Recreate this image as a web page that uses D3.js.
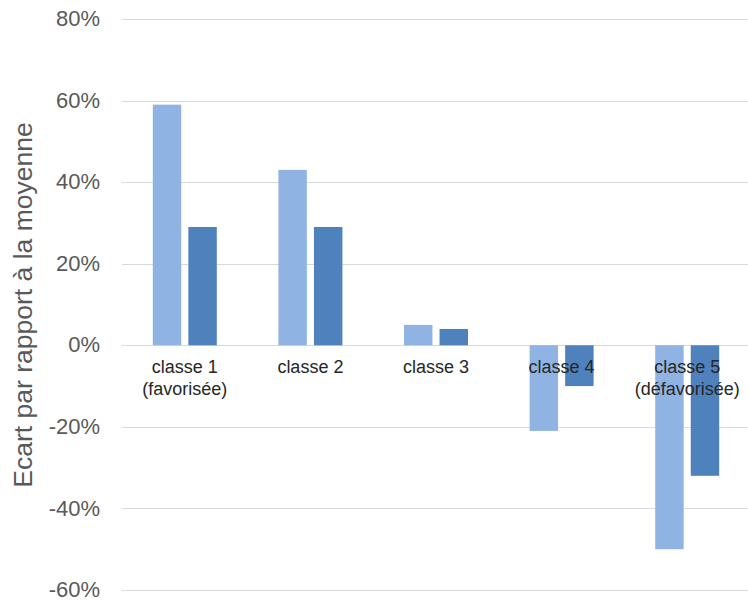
<!DOCTYPE html>
<html>
<head>
<meta charset="utf-8">
<script src="https://cdn.jsdelivr.net/npm/d3@7"></script>
<style>
  html, body { margin: 0; padding: 0; background: #fff; }
  svg { display: block; font-family: "Liberation Sans", Arial, sans-serif; }
</style>
</head>
<body>
<svg id="chart" width="748" height="600"></svg>
<script>
// Categories (each label may wrap onto two lines)
const categories = ["classe 1", "classe 2", "classe 3", "classe 4", "classe 5"];
const categoryLines = [
  ["classe 1", "(favorisée)"],
  ["classe 2"],
  ["classe 3"],
  ["classe 4"],
  ["classe 5", "(défavorisée)"]
];
// Two series of deviations from the mean
const seriesNames = ["serieA", "serieB"];
const serieA = [0.59, 0.43, 0.05, -0.21, -0.50];
const serieB = [0.29, 0.29, 0.04, -0.10, -0.32];
const seriesColors = ["#8FB4E3", "#4F81BD"];
// Y-axis ticks
const yTicks = [-0.6, -0.4, -0.2, 0, 0.2, 0.4, 0.6, 0.8];
const yTitle = "Ecart par rapport à la moyenne";

const svg = d3.select("#chart");

const x = d3.scaleBand().domain(categories).range([122, 750]).padding(0);
const y = d3.scaleLinear().domain([-0.6, 0.8]).range([590, 19]);

// Percent labels with a plain hyphen for negatives
const pct = d => Math.round(d * 100) + "%";

const yAxis = d3.axisLeft(y)
  .tickValues(yTicks)
  .tickSize(0)
  .tickPadding(22)
  .tickFormat(pct);

const gAxis = svg.append("g").attr("transform", "translate(122,0)").call(yAxis);
gAxis.select(".domain").remove();
gAxis.selectAll("text")
  .attr("fill", "#595959")
  .attr("dy", "0.3em")
  .style("font-size", "22px")
  .style("font-family", "'Liberation Sans', Arial, sans-serif");

// Gridlines
svg.append("g").selectAll("line")
  .data(yTicks)
  .join("line")
  .attr("x1", 122).attr("x2", 748)
  .attr("y1", d => Math.round(y(d)) + 0.5)
  .attr("y2", d => Math.round(y(d)) + 0.5)
  .attr("stroke", "#d9d9d9")
  .attr("stroke-width", 1);

// Bars
const data = categories.map((c, i) => ({ cat: c, values: [serieA[i], serieB[i]] }));
const barGroup = svg.append("g");
data.forEach(d => {
  const center = x(d.cat) + x.bandwidth() / 2;
  const inner = d3.scaleBand().domain(seriesNames).range([center - 32, center + 32]).paddingInner(0.2);
  seriesNames.forEach((s, j) => {
    const v = d.values[j];
    barGroup.append("rect")
      .attr("x", inner(s))
      .attr("width", inner.bandwidth())
      .attr("y", Math.min(y(v), y(0)))
      .attr("height", Math.abs(y(v) - y(0)))
      .attr("fill", seriesColors[j]);
  });
});

// Category labels under the zero line
const labels = svg.append("g");
categories.forEach((c, i) => {
  const t = labels.append("text")
    .attr("x", x(c) + x.bandwidth() / 2)
    .attr("y", 373)
    .attr("text-anchor", "middle")
    .attr("fill", "#262626")
    .style("font-size", "18px");
  categoryLines[i].forEach((line, k) => {
    t.append("tspan")
      .attr("x", x(c) + x.bandwidth() / 2)
      .attr("dy", k === 0 ? 0 : 21.5)
      .text(line);
  });
});

// Y-axis title
svg.append("text")
  .attr("transform", "translate(32,305) rotate(-90)")
  .attr("text-anchor", "middle")
  .attr("fill", "#595959")
  .style("font-size", "26.5px")
  .text(yTitle);
</script>
</body>
</html>
